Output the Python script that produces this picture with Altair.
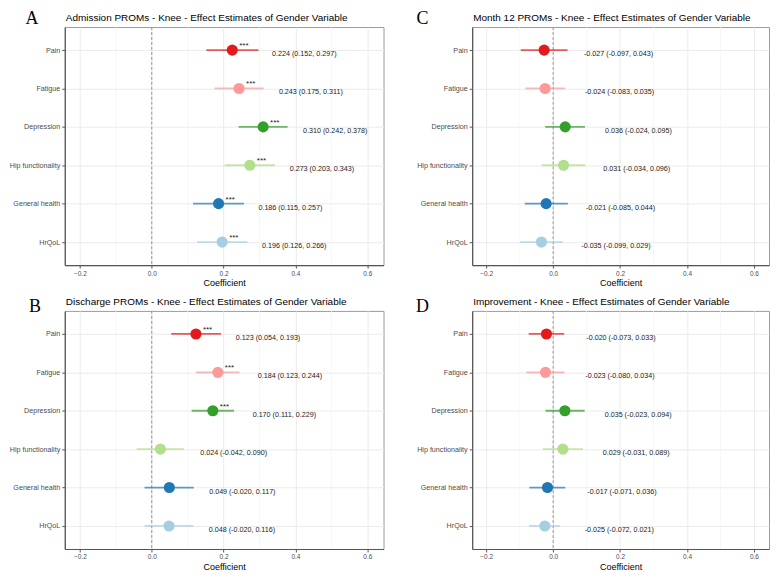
import altair as alt
import pandas as pd

categories = ["Pain", "Fatigue", "Depression", "Hip functionality", "General health", "HrQoL"]
cat_colors = ["#E31A1C", "#FB9A99", "#33A02C", "#B2DF8A", "#1F78B4", "#A6CEE3"]

x_ticks = [-0.2, 0.0, 0.2, 0.4, 0.6]
x_minor = [-0.1, 0.1, 0.3, 0.5]
x_domain = [-0.242, 0.645]

a_est = [0.224, 0.243, 0.310, 0.273, 0.186, 0.196]
a_lo = [0.152, 0.175, 0.242, 0.203, 0.115, 0.126]
a_hi = [0.297, 0.311, 0.378, 0.343, 0.257, 0.266]
a_sig = ["***", "***", "***", "***", "***", "***"]

b_est = [0.123, 0.184, 0.170, 0.024, 0.049, 0.048]
b_lo = [0.054, 0.123, 0.111, -0.042, -0.020, -0.020]
b_hi = [0.193, 0.244, 0.229, 0.090, 0.117, 0.116]
b_sig = ["***", "***", "***", "", "", ""]

c_est = [-0.027, -0.024, 0.036, 0.031, -0.021, -0.035]
c_lo = [-0.097, -0.083, -0.024, -0.034, -0.085, -0.099]
c_hi = [0.043, 0.035, 0.095, 0.096, 0.044, 0.029]
c_sig = ["", "", "", "", "", ""]

d_est = [-0.020, -0.023, 0.035, 0.029, -0.017, -0.025]
d_lo = [-0.073, -0.080, -0.023, -0.031, -0.071, -0.072]
d_hi = [0.033, 0.034, 0.094, 0.089, 0.036, 0.021]
d_sig = ["", "", "", "", "", ""]

FONT = "Liberation Sans"


def panel(title, letter, est, lo, hi, sig, w, h, ldx, ldy):
    df = pd.DataFrame({"cat": categories, "est": est, "lo": lo, "hi": hi, "sig": sig})
    df["label"] = [f"{e:.3f} ({l:.3f}, {u:.3f})" for e, l, u in zip(est, lo, hi)]
    xscale = alt.Scale(domain=x_domain, nice=False, zero=False)
    xaxis = alt.Axis(values=x_ticks, format=".1f", title="Coefficient", grid=True)
    yenc = alt.Y("cat:N", sort=categories,
                 scale=alt.Scale(type="point", padding=0.6, domain=categories),
                 axis=alt.Axis(title=None, grid=True))
    color = alt.Color("cat:N", scale=alt.Scale(domain=categories, range=cat_colors), legend=None)

    minor = alt.Chart(pd.DataFrame({"v": x_minor})).mark_rule(
        color="#f3f3f3", strokeWidth=0.7
    ).encode(x=alt.X("v:Q", scale=xscale, axis=xaxis))
    zero = alt.Chart(pd.DataFrame({"v": [0.0]})).mark_rule(
        color="#8c8c8c", strokeDash=[3, 2], strokeWidth=0.9
    ).encode(x=alt.X("v:Q", scale=xscale, axis=xaxis))
    base = alt.Chart(df)
    bars = base.mark_rule(strokeWidth=1.8, opacity=0.72).encode(
        x=alt.X("lo:Q", scale=xscale, axis=xaxis), x2="hi:Q", y=yenc, color=color)
    pts = base.mark_circle(size=125, opacity=1).encode(
        x=alt.X("est:Q", scale=xscale, axis=xaxis), y=yenc, color=color)
    labels = base.mark_text(align="left", baseline="middle", dx=40, dy=4,
                            fontSize=7.2, font=FONT, color="#222").encode(
        x=alt.X("est:Q", scale=xscale, axis=xaxis), y=yenc, text="label:N")
    stars = base.mark_text(align="left", baseline="middle", dx=7, dy=-4,
                           fontSize=8, font=FONT, color="#222").encode(
        x=alt.X("est:Q", scale=xscale, axis=xaxis), y=yenc, text="sig:N")
    let = alt.Chart(pd.DataFrame({"t": [letter]})).mark_text(
        align="center", baseline="alphabetic", font="Liberation Serif",
        fontSize=18, color="black"
    ).encode(x=alt.value(ldx), y=alt.value(ldy), text="t:N")
    ttl = alt.Chart(pd.DataFrame({"t": [title]})).mark_text(
        align="left", baseline="alphabetic", font=FONT, fontSize=10, color="black"
    ).encode(x=alt.value(1), y=alt.value(-6), text="t:N")

    return alt.layer(minor, zero, bars, pts, labels, stars, let, ttl).properties(
        width=w, height=h,
    )


H = 239
pA = panel("Admission PROMs - Knee - Effect Estimates of Gender Variable", "A",
           a_est, a_lo, a_hi, a_sig, 320, H, -33, -3)
pB = panel("Discharge PROMs - Knee - Effect Estimates of Gender Variable", "B",
           b_est, b_lo, b_hi, b_sig, 320, H, -30, 1)
pC = panel("Month 12 PROMs - Knee - Effect Estimates of Gender Variable", "C",
           c_est, c_lo, c_hi, c_sig, 298, H, -50, -3)
pD = panel("Improvement - Knee - Effect Estimates of Gender Variable", "D",
           d_est, d_lo, d_hi, d_sig, 298, H, -50, 1)

chart = alt.hconcat(
    alt.vconcat(pA, pB, spacing=8),
    alt.vconcat(pC, pD, spacing=8),
    spacing=31,
).properties(
    padding={"left": 0, "top": 0, "right": 0, "bottom": 0}
).configure_view(
    stroke="#9a9a9a", strokeWidth=1
).configure_axis(
    labelFont=FONT, titleFont=FONT, labelFontSize=7.2, labelColor="#4d4d4d",
    titleFontSize=9, titleFontWeight="normal", titleColor="black",
    tickColor="#555", tickSize=3, domainColor="#555", domainWidth=1.2,
    gridColor="#ebebeb", gridWidth=1, labelPadding=2, titlePadding=2,
).configure_axisX(
    labelFontSize=6.5,
)

chart.save("out.html", embed_options={"renderer": "svg", "actions": False})
